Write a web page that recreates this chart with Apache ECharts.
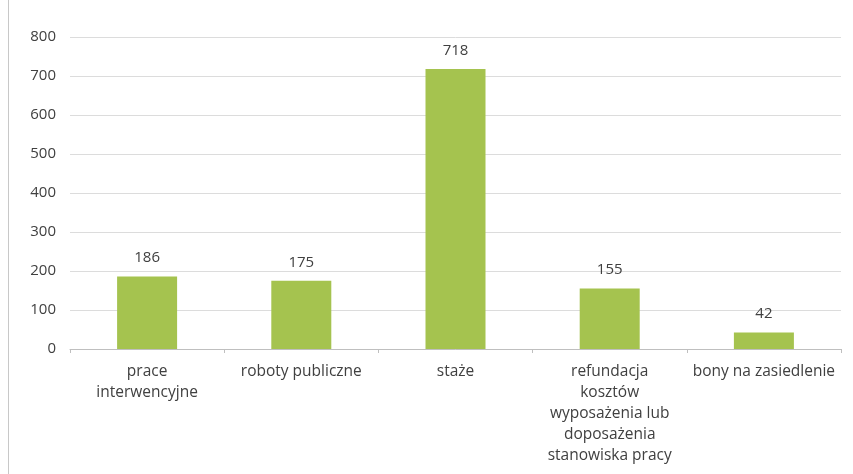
<!DOCTYPE html>
<html><head><meta charset="utf-8">
<script src="https://cdn.jsdelivr.net/npm/echarts@6/dist/echarts.min.js"></script>
<style>html,body{margin:0;padding:0;background:#fff}#c{width:853px;height:474px}
#f{position:absolute;left:8px;top:-2px;width:900px;height:480px;border:1px solid #c8c8c8;box-sizing:border-box;pointer-events:none}</style>
</head><body><div id="c"></div><div id="f"></div>
<script>
const categories = ['prace\ninterwencyjne', 'roboty publiczne', 'staże', 'refundacja\nkosztów\nwyposażenia lub\ndoposażenia\nstanowiska pracy', 'bony na zasiedlenie'];
const values = [186, 175, 718, 155, 42];
const yTicks = [0, 100, 200, 300, 400, 500, 600, 700, 800];
const chart = echarts.init(document.getElementById('c'));
const font = '"Open Sans", "Liberation Sans", sans-serif';
chart.setOption({
  backgroundColor: '#fff',
  animation: false,
  grid: {left: 70, right: 12, top: 37, bottom: 125},
  xAxis: {
    type: 'category', data: categories,
    axisLine: {lineStyle: {color: '#bfbfbf'}},
    axisTick: {show: true, length: 4, lineStyle: {color: '#bfbfbf'}},
    axisLabel: {color: '#404040', fontFamily: font, fontSize: 15.5, lineHeight: 21, margin: 12, interval: 0}
  },
  yAxis: {
    type: 'value', min: 0, max: 800, interval: 100,
    axisLine: {show: false}, axisTick: {show: false},
    splitLine: {lineStyle: {color: '#dcdcdc'}},
    axisLabel: {color: '#404040', fontFamily: font, fontSize: 15, margin: 14,
      formatter: v => yTicks.includes(v) ? String(v) : ''}
  },
  series: [{
    type: 'bar', data: values, barWidth: 60,
    itemStyle: {color: '#a5c34f'},
    label: {show: true, position: 'top', distance: 11, color: '#404040', fontFamily: font, fontSize: 15}
  }]
});
</script></body></html>
